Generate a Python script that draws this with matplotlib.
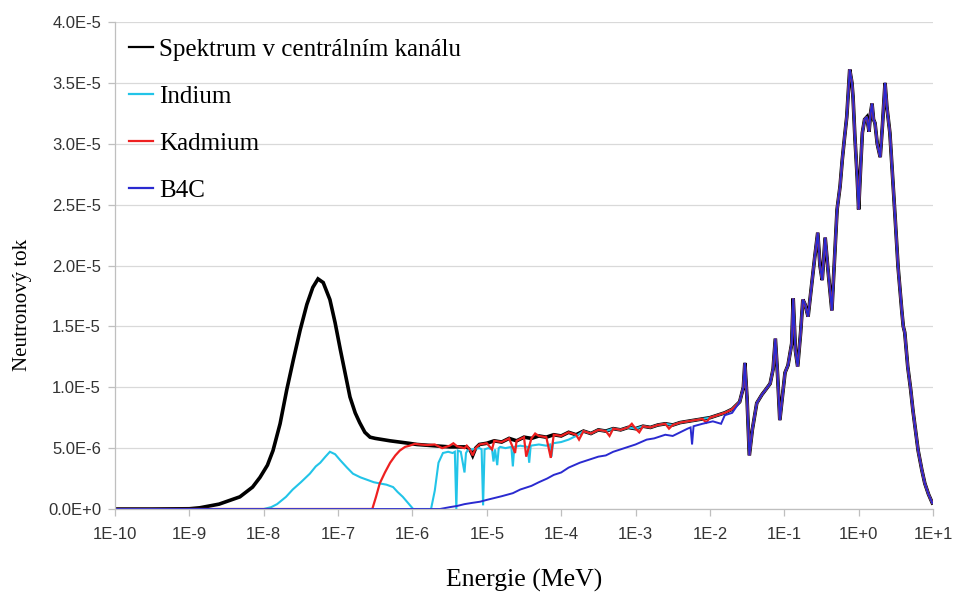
import numpy as np
import matplotlib

matplotlib.use("Agg")
import matplotlib.pyplot as plt
from matplotlib.ticker import FuncFormatter, LogLocator, MultipleLocator

# Flux values are in units of 1e-6; energies as log10(E / MeV).

# thermal + epithermal part of the unfiltered spectrum
spec_log = [-10.0, -9.5, -9.0, -8.86, -8.6, -8.32, -8.15, -8.05, -7.95, -7.875,
            -7.78, -7.69, -7.6, -7.51, -7.42, -7.34, -7.27, -7.2, -7.11, -7.04,
            -6.97, -6.9, -6.84, -6.77, -6.71, -6.64, -6.57, -6.5, -6.4, -6.3,
            -6.17, -6.05, -5.94, -5.83, -5.72, -5.6, -5.5, -5.4, -5.27, -5.22,
            -5.19, -5.15, -5.1]
spec_flux = [0.0, 0.0, 0.02, 0.1, 0.4, 1.0, 1.8, 2.6, 3.6, 4.8,
             7.0, 9.8, 12.3, 14.7, 16.8, 18.2, 18.9, 18.6, 17.2, 15.3,
             13.1, 11.0, 9.2, 7.9, 7.1, 6.3, 5.9, 5.8, 5.7, 5.6,
             5.5, 5.4, 5.3, 5.25, 5.2, 5.15, 5.1, 5.1, 5.1, 4.8,
             4.4, 5.0, 5.3]

# slowly rising 1/E-like plateau shared by the unfiltered, In and Cd runs
mid_log = [-5.0, -4.9, -4.8, -4.7, -4.6, -4.5, -4.4, -4.3, -4.2, -4.1,
           -4.0, -3.9, -3.8, -3.7, -3.6, -3.5, -3.4, -3.3, -3.2, -3.1,
           -3.0, -2.9, -2.8, -2.7, -2.6, -2.5, -2.4, -2.3, -2.2, -2.1,
           -2.0, -1.9, -1.8, -1.7]
mid_flux = [5.4, 5.6, 5.5, 5.8, 5.6, 5.9, 5.8, 6.0, 5.9, 6.1,
            6.0, 6.3, 6.1, 6.4, 6.2, 6.5, 6.4, 6.6, 6.5, 6.7,
            6.6, 6.8, 6.7, 6.9, 7.0, 6.9, 7.1, 7.2, 7.3, 7.4,
            7.5, 7.7, 7.9, 8.2]

# fast region, identical for all filters
fast_log = [-1.6, -1.55, -1.53, -1.5, -1.47, -1.43, -1.37, -1.3, -1.25, -1.19,
            -1.15, -1.12, -1.09, -1.06, -1.02, -0.99, -0.95, -0.9, -0.88, -0.85,
            -0.82, -0.78, -0.75, -0.72, -0.68, -0.63, -0.59, -0.55, -0.52, -0.49,
            -0.45, -0.41, -0.36, -0.32, -0.29, -0.25, -0.22, -0.19, -0.16, -0.12,
            -0.09, -0.075, -0.05, -0.02, 0.0, 0.03, 0.05, 0.08, 0.11, 0.14,
            0.16, 0.18, 0.2, 0.22, 0.25, 0.29, 0.32, 0.355, 0.38, 0.42,
            0.46, 0.49, 0.53, 0.58, 0.6, 0.62, 0.66, 0.7, 0.73, 0.77,
            0.8, 0.85, 0.89, 0.94, 0.99]
fast_flux = [8.8, 10.0, 12.0, 9.0, 4.4, 6.5, 8.7, 9.4, 9.8, 10.3,
             11.5, 14.0, 11.0, 7.3, 9.5, 11.2, 11.8, 13.6, 17.3, 13.0,
             11.7, 14.5, 17.2, 16.8, 15.8, 18.5, 20.7, 22.7, 20.0, 18.8,
             22.3, 19.5, 16.3, 21.0, 24.6, 26.5, 28.7, 30.5, 32.2, 36.1,
             35.0, 33.8, 30.5, 27.3, 24.6, 28.5, 30.9, 32.0, 32.2, 31.0,
             32.5, 33.3, 32.0, 31.7, 30.0, 28.9, 31.5, 35.0, 33.0, 30.9,
             27.0, 24.0, 19.9, 16.3, 15.0, 14.5, 11.7, 9.8, 8.1, 6.2,
             4.8, 3.2, 2.1, 1.2, 0.5]

# indium filter: below the plateau, with resonance dips
ind_log = [-10.0, -8.0, -7.9, -7.82, -7.7, -7.61, -7.5, -7.38, -7.3, -7.24,
           -7.17, -7.11, -7.04, -6.97, -6.88, -6.8, -6.7, -6.61, -6.52, -6.44,
           -6.35, -6.26, -6.2, -6.13, -6.06, -5.99, -5.75, -5.7, -5.65, -5.59,
           -5.52, -5.46, -5.43, -5.41, -5.39, -5.35, -5.3, -5.28, -5.26, -5.2,
           -5.1, -5.07, -5.05, -5.03, -4.98, -4.93, -4.91, -4.89, -4.86, -4.84,
           -4.82, -4.75, -4.67, -4.65, -4.63, -4.55, -4.45, -4.43, -4.41, -4.3,
           -4.2, -4.15, -4.13, -4.11, -4.0, -3.9, -3.8]
ind_flux = [0.0, 0.0, 0.15, 0.4, 1.0, 1.6, 2.2, 2.9, 3.5, 3.8,
            4.3, 4.7, 4.5, 4.0, 3.4, 2.9, 2.6, 2.4, 2.2, 2.1,
            2.0, 1.8, 1.4, 1.0, 0.5, 0.0, 0.0, 1.5, 3.8, 4.6,
            4.7, 4.6, 4.7, 0.0, 4.8, 4.7, 3.0, 4.6, 4.8, 4.9,
            5.0, 4.9, 0.3, 4.9, 5.0, 4.9, 3.9, 4.9, 3.6, 5.0,
            5.1, 5.0, 5.1, 3.5, 5.1, 5.2, 5.1, 3.8, 5.2, 5.3,
            5.2, 5.3, 4.3, 5.4, 5.5, 5.7, 6.0]

# cadmium filter: cut-off around 0.4 eV
cd_log = [-10.0, -6.54, -6.49, -6.44, -6.37, -6.3, -6.23, -6.17, -6.1, -6.04,
          -5.97, -5.9, -5.8, -5.7, -5.6, -5.5, -5.45, -5.4, -5.3, -5.27,
          -5.22, -5.19, -5.15, -5.1]
cd_flux = [0.0, 0.0, 1.0, 2.1, 3.0, 3.8, 4.4, 4.8, 5.1, 5.2,
           5.35, 5.3, 5.25, 5.3, 5.0, 5.2, 5.4, 5.15, 5.0, 5.2,
           4.8, 4.4, 5.0, 5.3]
cd_extra_log = [-4.93, -4.62, -4.47, -4.35, -4.14, -3.76, -3.35, -3.05, -2.95, -2.55, -2.05]
cd_extra_flux = [4.9, 4.6, 4.3, 6.2, 4.2, 5.7, 6.0, 7.0, 6.3, 6.6, 7.1]

# B4C filter
b4c_log = [-10.0, -5.63, -5.5, -5.4, -5.3, -5.2, -5.09, -5.0, -4.9, -4.8,
           -4.65, -4.55, -4.4, -4.3, -4.19, -4.1, -4.0, -3.9, -3.75, -3.65,
           -3.5, -3.4, -3.3, -3.2, -3.1, -3.0, -2.85, -2.75, -2.6, -2.5,
           -2.4, -2.3, -2.26, -2.24, -2.22, -2.1, -1.96, -1.85, -1.8, -1.7]
b4c_flux = [0.0, 0.0, 0.15, 0.25, 0.4, 0.5, 0.6, 0.75, 0.9, 1.05,
            1.3, 1.6, 1.9, 2.2, 2.5, 2.8, 3.0, 3.4, 3.8, 4.0,
            4.3, 4.4, 4.7, 4.9, 5.1, 5.3, 5.7, 5.8, 6.1, 6.0,
            6.3, 6.6, 6.7, 5.3, 6.8, 7.0, 7.2, 7.0, 7.7, 7.9]

labels = ["Spektrum v centrálním kanálu", "Indium", "Kadmium", "B4C"]
colors = ["#000000", "#22c4e8", "#ee2020", "#2a2ad0"]
widths = [2.6, 1.5, 1.6, 1.4]


def _series(*parts):
    """Join (log, flux) pieces, sort by energy, return (E, flux) in real units."""
    x = np.concatenate([np.asarray(p[0], float) for p in parts])
    y = np.concatenate([np.asarray(p[1], float) for p in parts])
    order = np.argsort(x, kind="stable")
    return 10.0 ** x[order], y[order] * 1e-6


mid_l = np.array(mid_log)
mid_f = np.array(mid_flux)
late = mid_l > -3.75

series = [
    _series((spec_log, spec_flux), (mid_log, mid_flux), (fast_log, fast_flux)),
    _series((ind_log, ind_flux), (mid_l[late], mid_f[late]), (fast_log, fast_flux)),
    _series((cd_log, cd_flux), (mid_log, mid_flux), (cd_extra_log, cd_extra_flux),
            (fast_log, fast_flux)),
    _series((b4c_log, b4c_flux), (fast_log, fast_flux)),
]

fig = plt.figure(figsize=(9.59, 5.92), dpi=100)
ax = fig.add_axes([0.1199, 0.1402, 0.853, 0.8226])

for (x, y), lab, c, lw in zip(series, labels, colors, widths):
    ax.plot(x, y, color=c, lw=lw, label=lab, solid_joinstyle="miter")

ax.set_xscale("log")
ax.set_xlim(1e-10, 1e1)
ax.set_ylim(0, 4.0e-5)

ax.xaxis.set_major_locator(LogLocator(base=10, numticks=20))
ax.xaxis.set_minor_locator(LogLocator(base=10, subs=[], numticks=20))
ax.xaxis.set_major_formatter(
    FuncFormatter(lambda v, _: f"1E{int(round(np.log10(v))):+d}"))


def _sci(v, _):
    if v == 0:
        return "0.0E+0"
    exp = int(np.floor(np.log10(abs(v)) + 1e-9))
    return f"{v / 10 ** exp:.1f}E{exp:+d}"


ax.yaxis.set_major_locator(MultipleLocator(5e-6))
ax.yaxis.set_major_formatter(FuncFormatter(_sci))

ax.grid(axis="y", color="#d9d9d9", lw=0.9)
ax.set_axisbelow(True)
for side in ("top", "right"):
    ax.spines[side].set_visible(False)
for side in ("left", "bottom"):
    ax.spines[side].set_color("#bfbfbf")
    ax.spines[side].set_linewidth(0.9)

ax.tick_params(axis="both", which="major", color="#bfbfbf", length=5, width=0.9,
               labelcolor="#333333", labelsize=12)
ax.tick_params(axis="x", pad=8)
ax.tick_params(axis="y", pad=5)
for t in ax.get_xticklabels() + ax.get_yticklabels():
    t.set_fontfamily("Liberation Sans")

ax.set_xlabel("Energie (MeV)", fontfamily="Liberation Serif", fontsize=18.5, labelpad=19)
ax.set_ylabel("Neutronový tok", fontfamily="Liberation Serif", fontsize=15)
ax.yaxis.set_label_coords(-0.101, 0.42)

leg = ax.legend(loc="upper left", bbox_to_anchor=(0.0, 0.996), frameon=False,
                prop={"family": "Liberation Serif", "size": 18},
                handlelength=0.95, handletextpad=0.22, labelspacing=0.98,
                borderaxespad=0.18)
for h in leg.get_lines():
    h.set_linewidth(1.6)

fig.savefig("out.png", dpi=100)
